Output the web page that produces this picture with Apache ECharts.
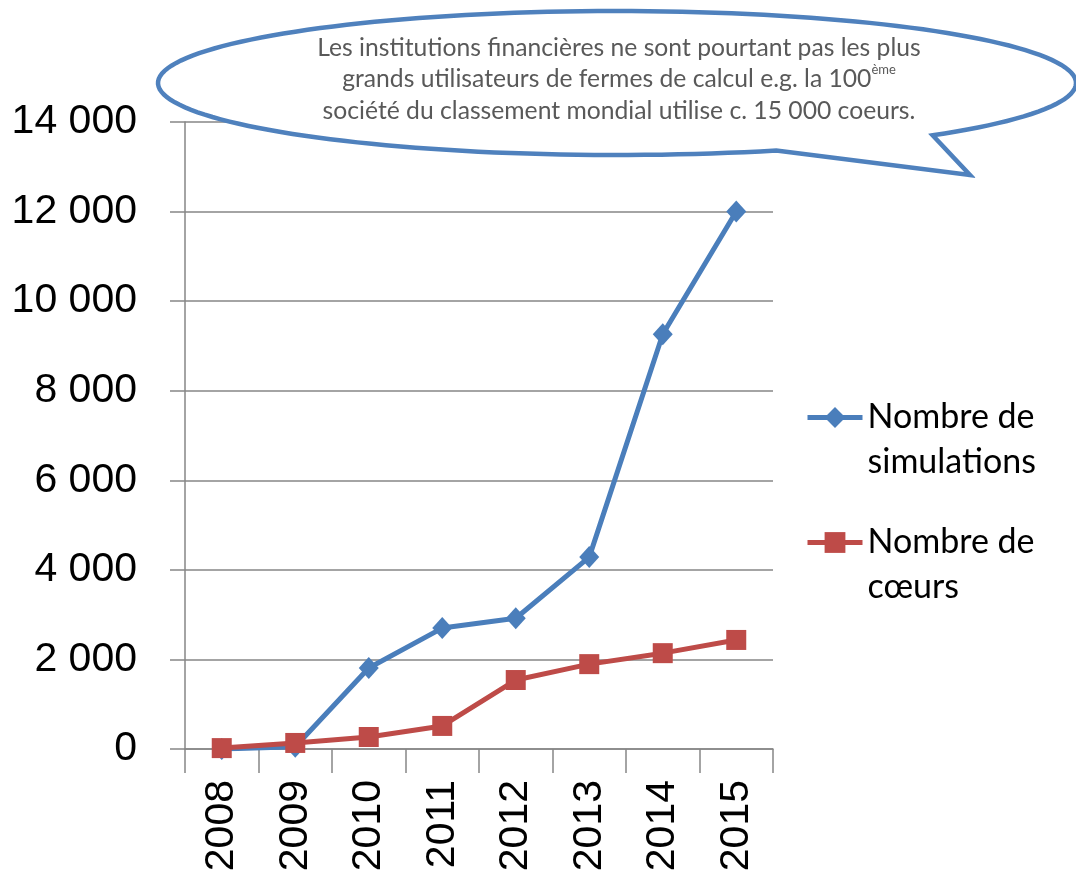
<!DOCTYPE html>
<html>
<head>
<meta charset="utf-8">
<script src="https://cdn.jsdelivr.net/npm/echarts@6/dist/echarts.min.js"></script>
<style>
  html, body { margin: 0; padding: 0; background: #fff; }
  #chart { width: 1076px; height: 886px; }
</style>
</head>
<body>
<div id="chart"></div>
<script>
// données
var years = ['2008', '2009', '2010', '2011', '2012', '2013', '2014', '2015'];
var simulations = [0, 50, 1810, 2700, 2920, 4285, 9260, 12000];
var coeurs = [20, 135, 268, 515, 1540, 1895, 2140, 2435];
var seriesNames = ['Nombre de simulations', 'Nombre de cœurs'];
var bubbleLines = [
	'Les institutions financières ne sont pourtant pas les plus',
	'grands utilisateurs de fermes de calcul e.g. la 100{sup|ème}',
	'société du classement mondial utilise c. 15 000 coeurs.'
];

var gridColor = '#868686';

// bulle (ellipse + pointe) en coordonnées écran
function bubblePoints() {
	var cx = 617, cy = 83, rx = 459, ry = 72;
	var t1 = Math.atan2((134 - cy) / ry, (925 - cx) / rx);
	var t2 = Math.atan2((150 - cy) / ry, (775 - cx) / rx) - Math.PI * 2;
	var pts = [];
	var n = 160;
	for (var i = 0; i <= n; i++) {
		var t = t1 + (t2 - t1) * i / n;
		pts.push([cx + rx * Math.cos(t), cy + ry * Math.sin(t)]);
	}
	pts.push([970, 175]);
	return pts;
}

function fmtThousands(v) {
	return String(v).replace(/\B(?=(\d{3})+(?!\d))/g, ' ');
}

var chart = echarts.init(document.getElementById('chart'));
var option = {
	animation: false,
	backgroundColor: '#fff',
	grid: {
		left: 185,
		right: 303,
		top: 122,
		bottom: 137,
		containLabel: false,
		outerBoundsMode: 'none'
	},
	legend: {
		orient: 'vertical',
		left: 805,
		top: 350,
		padding: 0,
		itemGap: -10,
		itemWidth: 55,
		itemHeight: 26,
		data: seriesNames,
		lineStyle: { width: 5 },
		// ligne vide en tête : l'icône s'aligne sur la 1re ligne du texte
		formatter: function (name) {
			return ' \n' + name.replace('Nombre de ', 'Nombre de\n');
		},
		textStyle: {
			fontFamily: 'Lato',
			fontSize: 34,
			lineHeight: 45,
			color: '#000'
		}
	},
	xAxis: {
		type: 'category',
		data: years,
		boundaryGap: true,
		axisLine: { lineStyle: { color: gridColor, width: 1.5 } },
		axisTick: { show: true, interval: 0, length: 24, lineStyle: { color: gridColor, width: 1.5 } },
		axisLabel: {
			interval: 0,
			rotate: 90,
			margin: 31,
			fontFamily: 'Liberation Sans',
			fontSize: 41,
			color: '#000'
		}
	},
	yAxis: {
		type: 'value',
		min: 0,
		max: 14000,
		interval: 2000,
		axisLine: { show: true, lineStyle: { color: gridColor, width: 1.5 } },
		axisTick: { show: true, length: 15, lineStyle: { color: gridColor, width: 1.5 } },
		splitLine: { lineStyle: { color: gridColor, width: 1.5 } },
		axisLabel: {
			margin: 48,
			fontFamily: 'Liberation Sans',
			fontSize: 41,
			color: '#000',
			formatter: fmtThousands
		}
	},
	series: [{
		name: seriesNames[0],
		type: 'line',
		data: simulations,
		symbol: 'diamond',
		symbolSize: [20, 22],
		showAllSymbol: true,
		itemStyle: { color: '#4A7EBB' },
		lineStyle: { color: '#4A7EBB', width: 5 },
		z: 3
	}, {
		name: seriesNames[1],
		type: 'line',
		data: coeurs,
		symbol: 'rect',
		symbolSize: 20,
		showAllSymbol: true,
		itemStyle: { color: '#BE4B48' },
		lineStyle: { color: '#BE4B48', width: 5 },
		z: 4
	}],
	graphic: [{
		type: 'polygon',
		z: 100,
		shape: { points: bubblePoints() },
		style: { fill: '#fff', stroke: '#4F81BD', lineWidth: 4.5, lineJoin: 'miter' }
	}, {
		type: 'text',
		z: 101,
		x: 619,
		y: 32,
		style: {
			text: bubbleLines.join('\n'),
			align: 'center',
			verticalAlign: 'top',
			fontFamily: 'Lato',
			fontSize: 24.7,
			lineHeight: 31.5,
			fill: '#595959',
			rich: {
				sup: {
					fontFamily: 'Lato',
					fontSize: 13,
					lineHeight: 31.5,
					verticalAlign: 'top',
					padding: [0, 0, 10, 0],
					fill: '#595959'
				}
			}
		}
	}]
};
chart.setOption(option);
</script>
</body>
</html>
